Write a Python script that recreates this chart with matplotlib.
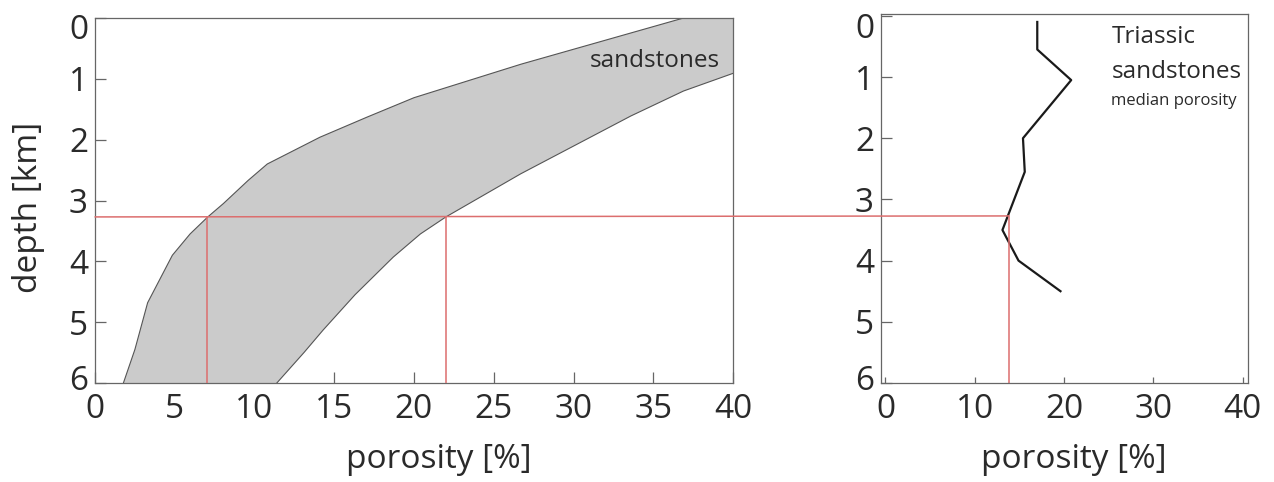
"""
Porosity vs depth for sandstones, with Triassic sandstone median porosity profile.
Saves out.png
"""

import matplotlib
matplotlib.use("Agg")
import matplotlib.pyplot as plt
from matplotlib.patches import ConnectionPatch
from matplotlib.transforms import ScaledTranslation

plt.rcParams["font.family"] = ["Open Sans", "DejaVu Sans"]

# Sandstone porosity envelope: low-porosity edge and high-porosity edge
BAND_LOW_POROSITY = [1.78, 2.5, 3.3, 4.85, 5.96, 7.07, 8.05, 9.6, 10.8, 14.1, 17.05, 20.0, 26.7, 36.9]
BAND_LOW_DEPTH = [6.0, 5.45, 4.68, 3.90, 3.55, 3.27, 3.05, 2.67, 2.40, 1.96, 1.63, 1.31, 0.76, 0.0]
BAND_HIGH_POROSITY = [11.4, 13.1, 14.3, 16.3, 18.7, 20.4, 22.0, 26.7, 33.6, 36.9, 40.0]
BAND_HIGH_DEPTH = [6.0, 5.5, 5.13, 4.55, 3.93, 3.55, 3.27, 2.56, 1.61, 1.20, 0.91]

# Triassic sandstones median porosity profile
TRIAS_DEPTH = [0.1, 0.55, 1.05, 2.0, 2.55, 3.5, 4.0, 4.5]
TRIAS_POROSITY = [17.0, 17.0, 20.8, 15.4, 15.6, 13.1, 14.9, 19.6]

# Reference depth and porosity read-offs
REF_DEPTH = 3.27
REF_LEFT_POROSITY = [7.0, 22.0]
REF_RIGHT_POROSITY = 13.8

RED = "#dc6e6e"
SPINE = "#666666"
TEXT = "#2a2a2a"
FS = 24


def style_axes(ax):
    for s in ax.spines.values():
        s.set_color(SPINE)
        s.set_linewidth(0.9)
    ax.tick_params(direction="in", colors=SPINE, labelcolor=TEXT,
                   labelsize=FS, width=0.9)
    ax.tick_params(axis="x", pad=7)
    ax.tick_params(axis="y", pad=5)


def nudge_end_labels(ax, fig, top_dy, bottom_dy):
    # shift the 0 and 6 depth labels apart from the porosity labels
    labels = ax.yaxis.get_majorticklabels()
    for lab, dy in ((labels[0], top_dy), (labels[-1], bottom_dy)):
        lab.set_transform(lab.get_transform()
                          + ScaledTranslation(0, dy / 100, fig.dpi_scale_trans))


fig = plt.figure(figsize=(12.74, 4.82), dpi=100)
ax1 = fig.add_axes([95 / 1274, 99 / 482, 638 / 1274, 365 / 482])
ax2 = fig.add_axes([881 / 1274, 99 / 482, 367 / 1274, 369 / 482])

# left panel: envelope
poly_x = BAND_LOW_POROSITY + [40.0] + BAND_HIGH_POROSITY[::-1]
poly_y = BAND_LOW_DEPTH + [0.0] + BAND_HIGH_DEPTH[::-1]
ax1.fill(poly_x, poly_y, color="#cbcbcb", lw=0, zorder=1)
ax1.plot(BAND_LOW_POROSITY, BAND_LOW_DEPTH, color="#555555", lw=0.8, zorder=2)
ax1.plot(BAND_HIGH_POROSITY, BAND_HIGH_DEPTH, color="#555555", lw=0.8, zorder=2)
for p in REF_LEFT_POROSITY:
    ax1.plot([p, p], [REF_DEPTH, 6], color=RED, lw=1.1, zorder=3)
ax1.text(39.2, 0.80, "sandstones", fontsize=17.5, color=TEXT, ha="right", va="baseline")

ax1.set_xlim(0, 40)
ax1.set_ylim(6, 0)
ax1.set_xticks(range(0, 41, 5))
ax1.set_yticks(range(0, 7))
ax1.set_axisbelow(True)
style_axes(ax1)
ax1.tick_params(length=8)
ax1.set_xlabel("porosity [%]", fontsize=FS, color=TEXT)
ax1.set_ylabel("depth [km]", fontsize=FS, color=TEXT)
ax1.xaxis.set_label_coords(0.539, -0.164)
ax1.yaxis.set_label_coords(-0.078, 0.482)

# right panel: Triassic profile
ax2.plot(TRIAS_POROSITY, TRIAS_DEPTH, color="#1a1a1a", lw=1.6)
ax2.plot([REF_RIGHT_POROSITY, REF_RIGHT_POROSITY], [REF_DEPTH, 6], color=RED, lw=1.1)
ax2.text(25.3, 0.45, "Triassic", fontsize=17.5, color=TEXT, ha="left", va="baseline")
ax2.text(25.3, 1.02, "sandstones", fontsize=17.5, color=TEXT, ha="left", va="baseline")
ax2.text(25.3, 1.45, "median porosity", fontsize=12, color=TEXT, ha="left", va="baseline")

ax2.set_xlim(-0.5, 40.6)
ax2.set_ylim(6, -0.03)
ax2.set_xticks(range(0, 41, 10))
ax2.set_yticks(range(0, 7))
style_axes(ax2)
ax2.tick_params(axis="y", length=8)
ax2.tick_params(axis="x", length=4)
ax2.set_xlabel("porosity [%]", fontsize=FS, color=TEXT)
ax2.xaxis.set_label_coords(0.526, -0.163)

nudge_end_labels(ax1, fig, -8, 5)
nudge_end_labels(ax2, fig, -10, 5)

# horizontal read-off line across both panels
con = ConnectionPatch(xyA=(0, REF_DEPTH), coordsA=ax1.transData,
                      xyB=(REF_RIGHT_POROSITY, REF_DEPTH), coordsB=ax2.transData,
                      color=RED, lw=1.1)
fig.add_artist(con)

fig.savefig("out.png", dpi=100)
